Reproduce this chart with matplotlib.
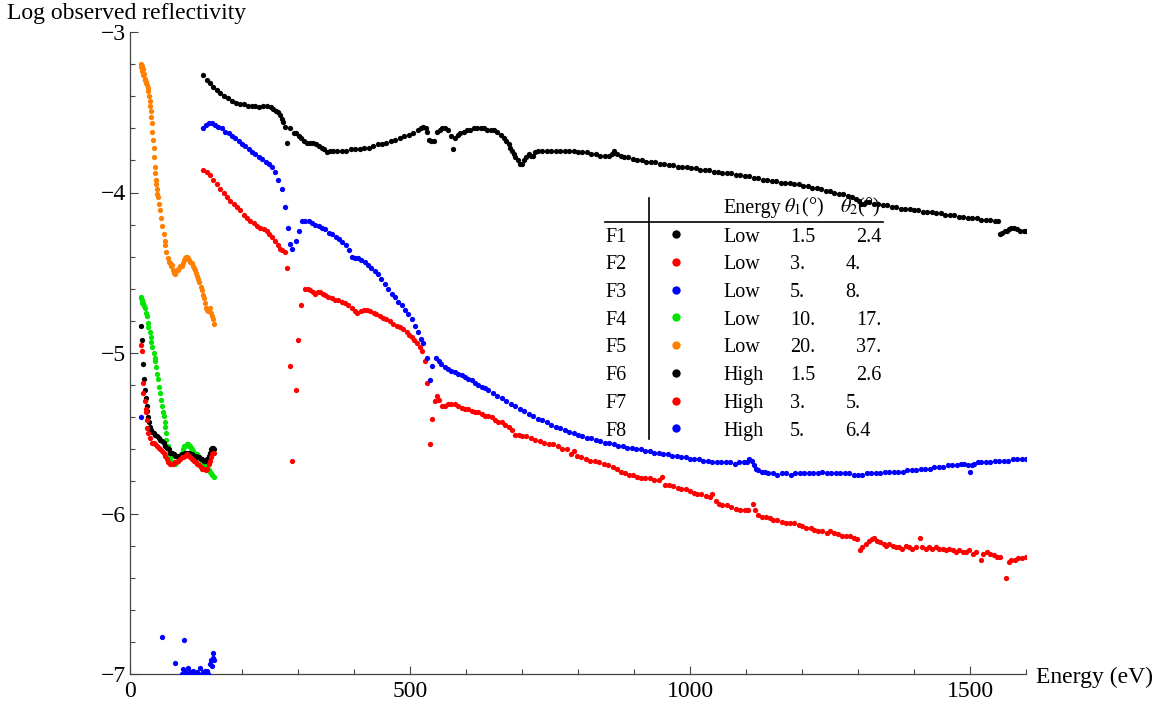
import matplotlib.pyplot as plt
from matplotlib.lines import Line2D
from matplotlib.ticker import MultipleLocator
from matplotlib.transforms import Affine2D

plt.rcParams['font.family'] = ['Liberation Serif', 'DejaVu Serif']
plt.rcParams['mathtext.fontset'] = 'stix'

# --- reflectivity scans: energy (eV) and log10 of observed reflectivity ---
e_f1 = [131, 137, 143, 149, 155, 161, 168, 175, 182, 189, 196, 203, 210, 217, 224, 231, 238, 245, 251, 256,
        261, 265, 268, 271, 274, 277, 281, 286, 292, 296, 301, 306, 310, 316, 322, 327, 333, 338, 342, 346,
        351, 357, 363, 370, 378, 386, 394, 402, 410, 418, 426, 434, 442, 450, 458, 466, 474, 482, 490, 498,
        506, 514, 520, 524, 528, 531, 534, 538, 542, 548, 553, 558, 563, 568, 573, 576, 580, 585, 590, 596,
        602, 608, 614, 620, 626, 632, 638, 644, 650, 656, 662, 667, 672, 676, 679, 682, 685, 688, 692, 696,
        700, 704, 708, 712, 716, 720, 724, 728, 736, 744, 752, 760, 768, 776, 784, 792, 800, 808, 816, 824,
        832, 840, 848, 856, 861, 865, 870, 876, 882, 890, 898, 906, 914, 922, 930, 938, 946, 954, 962, 970,
        978, 986, 994, 1002, 1010, 1018, 1026, 1034, 1042, 1050, 1058, 1066, 1074, 1082, 1090, 1098, 1106,
        1114, 1122, 1130, 1138, 1146, 1154, 1162, 1170, 1178, 1186, 1194, 1202, 1210, 1218, 1226, 1234, 1242,
        1250, 1258, 1266, 1274, 1282, 1290, 1297, 1302, 1306, 1310, 1314, 1320, 1328, 1336, 1344, 1352, 1360,
        1368, 1376, 1384, 1392, 1400, 1408, 1416, 1424, 1432, 1440, 1448, 1456, 1464, 1472, 1480, 1488, 1496,
        1504, 1512, 1520, 1528, 1536, 1544, 1550, 1554, 1558, 1562, 1566, 1570, 1574, 1578, 1584, 1590, 1596,
        1600]
r_f1 = [-3.27, -3.30, -3.32, -3.34, -3.36, -3.38, -3.40, -3.41, -3.43, -3.44, -3.45, -3.45, -3.46, -3.46,
        -3.46, -3.47, -3.46, -3.46, -3.47, -3.48, -3.49, -3.50, -3.52, -3.54, -3.56, -3.59, -3.69, -3.60,
        -3.63, -3.63, -3.65, -3.66, -3.68, -3.69, -3.69, -3.69, -3.70, -3.71, -3.72, -3.73, -3.75, -3.74,
        -3.74, -3.74, -3.74, -3.74, -3.73, -3.73, -3.73, -3.72, -3.72, -3.71, -3.70, -3.70, -3.69, -3.68,
        -3.67, -3.66, -3.65, -3.64, -3.63, -3.61, -3.60, -3.59, -3.60, -3.62, -3.67, -3.68, -3.68, -3.62,
        -3.61, -3.60, -3.60, -3.61, -3.65, -3.73, -3.66, -3.64, -3.63, -3.62, -3.61, -3.61, -3.60, -3.60,
        -3.60, -3.60, -3.61, -3.61, -3.61, -3.62, -3.64, -3.66, -3.68, -3.70, -3.72, -3.74, -3.76, -3.78,
        -3.80, -3.82, -3.82, -3.80, -3.78, -3.76, -3.77, -3.77, -3.75, -3.74, -3.74, -3.74, -3.74, -3.74,
        -3.74, -3.74, -3.74, -3.74, -3.75, -3.75, -3.75, -3.76, -3.76, -3.77, -3.77, -3.77, -3.76, -3.74,
        -3.76, -3.77, -3.78, -3.78, -3.79, -3.80, -3.80, -3.81, -3.81, -3.81, -3.82, -3.82, -3.83, -3.83,
        -3.84, -3.84, -3.84, -3.85, -3.85, -3.86, -3.86, -3.86, -3.87, -3.87, -3.88, -3.88, -3.88, -3.89,
        -3.89, -3.90, -3.90, -3.91, -3.91, -3.92, -3.92, -3.93, -3.93, -3.94, -3.94, -3.94, -3.95, -3.95,
        -3.96, -3.96, -3.97, -3.97, -3.98, -3.99, -3.99, -4.00, -4.01, -4.01, -4.02, -4.03, -4.04, -4.05,
        -4.07, -4.07, -4.06, -4.06, -4.07, -4.07, -4.08, -4.08, -4.09, -4.09, -4.10, -4.10, -4.10, -4.11,
        -4.11, -4.12, -4.12, -4.12, -4.13, -4.13, -4.14, -4.14, -4.14, -4.15, -4.15, -4.16, -4.16, -4.16,
        -4.17, -4.17, -4.17, -4.18, -4.18, -4.26, -4.25, -4.24, -4.24, -4.23, -4.22, -4.22, -4.23, -4.24,
        -4.24, -4.24]

e_f2 = [131, 137, 143, 149, 155, 161, 167, 173, 179, 185, 191, 197, 203, 209, 215, 221, 227, 233, 239, 244,
        249, 254, 259, 264, 268, 272, 276, 281, 285, 290, 296, 300, 306, 312, 317, 321, 326, 330, 335, 339,
        344, 349, 354, 360, 366, 372, 378, 384, 390, 396, 401, 406, 412, 418, 423, 429, 435, 440, 446, 452,
        458, 464, 470, 476, 482, 488, 494, 499, 503, 508, 512, 517, 521, 526, 530, 535, 540, 544, 548, 552,
        557, 562, 568, 574, 580, 586, 592, 598, 604, 610, 616, 622, 628, 634, 640, 646, 652, 658, 664, 670,
        676, 682, 688, 694, 700, 708, 716, 724, 732, 740, 748, 756, 764, 772, 780, 788, 792, 798, 806, 814,
        822, 830, 838, 846, 854, 862, 870, 877, 884, 891, 898, 906, 913, 920, 928, 936, 945, 950, 956, 962,
        970, 978, 984, 992, 1000, 1008, 1013, 1020, 1028, 1035, 1040, 1046, 1052, 1058, 1066, 1074, 1082,
        1090, 1098, 1104, 1112, 1116, 1121, 1128, 1135, 1142, 1149, 1156, 1164, 1172, 1178, 1186, 1194, 1200,
        1208, 1216, 1222, 1228, 1236, 1244, 1250, 1257, 1264, 1272, 1279, 1286, 1292, 1298, 1304, 1308, 1314,
        1320, 1325, 1329, 1334, 1340, 1346, 1350, 1356, 1362, 1368, 1374, 1379, 1385, 1391, 1397, 1403, 1411,
        1415, 1421, 1427, 1433, 1439, 1445, 1451, 1457, 1463, 1469, 1475, 1481, 1487, 1493, 1499, 1505, 1511,
        1519, 1524, 1530, 1536, 1542, 1548, 1554, 1564, 1569, 1574, 1580, 1586, 1592, 1600]
r_f2 = [-3.86, -3.87, -3.89, -3.92, -3.95, -3.98, -4.00, -4.03, -4.05, -4.07, -4.09, -4.11, -4.14, -4.16,
        -4.18, -4.19, -4.21, -4.22, -4.23, -4.24, -4.26, -4.28, -4.30, -4.33, -4.35, -4.36, -4.37, -4.47,
        -5.08, -5.67, -5.23, -4.92, -4.70, -4.60, -4.60, -4.61, -4.62, -4.63, -4.62, -4.62, -4.63, -4.64,
        -4.65, -4.66, -4.67, -4.67, -4.68, -4.69, -4.70, -4.72, -4.74, -4.75, -4.74, -4.73, -4.73, -4.74,
        -4.75, -4.76, -4.77, -4.78, -4.79, -4.80, -4.82, -4.83, -4.84, -4.85, -4.87, -4.89, -4.90, -4.92,
        -4.94, -4.96, -4.99, -5.05, -5.19, -5.57, -5.41, -5.30, -5.27, -5.29, -5.33, -5.33, -5.32, -5.32,
        -5.32, -5.33, -5.34, -5.35, -5.35, -5.36, -5.37, -5.37, -5.38, -5.39, -5.39, -5.40, -5.42, -5.43,
        -5.43, -5.45, -5.46, -5.48, -5.51, -5.51, -5.52, -5.52, -5.53, -5.54, -5.55, -5.56, -5.57, -5.57,
        -5.58, -5.60, -5.60, -5.63, -5.61, -5.64, -5.65, -5.66, -5.67, -5.67, -5.68, -5.69, -5.70, -5.71,
        -5.72, -5.74, -5.75, -5.76, -5.76, -5.77, -5.78, -5.78, -5.78, -5.79, -5.79, -5.77, -5.82, -5.82,
        -5.83, -5.84, -5.85, -5.85, -5.86, -5.87, -5.88, -5.88, -5.89, -5.90, -5.88, -5.92, -5.94, -5.95,
        -5.95, -5.96, -5.97, -5.98, -5.98, -5.98, -5.94, -5.98, -6.01, -6.02, -6.02, -6.03, -6.04, -6.04,
        -6.05, -6.06, -6.06, -6.06, -6.07, -6.08, -6.09, -6.09, -6.10, -6.11, -6.11, -6.12, -6.11, -6.12,
        -6.13, -6.14, -6.14, -6.14, -6.15, -6.16, -6.23, -6.21, -6.19, -6.17, -6.16, -6.15, -6.17, -6.18,
        -6.19, -6.20, -6.19, -6.20, -6.21, -6.21, -6.22, -6.20, -6.21, -6.22, -6.21, -6.15, -6.21, -6.22,
        -6.21, -6.22, -6.21, -6.22, -6.22, -6.23, -6.22, -6.23, -6.24, -6.23, -6.24, -6.24, -6.23, -6.25,
        -6.24, -6.29, -6.25, -6.24, -6.25, -6.26, -6.27, -6.27, -6.40, -6.30, -6.29, -6.29, -6.28, -6.28,
        -6.27]

e_f3 = [131, 136, 141, 146, 152, 158, 164, 170, 176, 182, 188, 194, 200, 206, 212, 218, 224, 230, 236, 242,
        248, 253, 259, 265, 271, 276, 282, 286, 290, 296, 301, 307, 313, 319, 325, 331, 337, 343, 349, 355,
        361, 367, 373, 379, 385, 391, 396, 401, 407, 413, 419, 425, 431, 437, 443, 449, 455, 461, 467, 473,
        479, 485, 491, 497, 503, 509, 515, 520, 524, 530, 535, 540, 546, 551, 556, 562, 568, 574, 580, 586,
        592, 598, 604, 610, 616, 622, 628, 634, 640, 648, 656, 664, 672, 680, 688, 696, 704, 712, 720, 728,
        736, 744, 752, 760, 768, 776, 784, 792, 800, 808, 816, 824, 832, 840, 848, 856, 864, 872, 880, 888,
        896, 904, 912, 920, 928, 936, 944, 952, 960, 968, 976, 984, 992, 1000, 1008, 1016, 1024, 1032, 1040,
        1048, 1056, 1064, 1072, 1080, 1088, 1096, 1102, 1106, 1110, 1114, 1118, 1122, 1128, 1134, 1140, 1148,
        1156, 1164, 1172, 1180, 1188, 1196, 1204, 1212, 1220, 1228, 1236, 1244, 1252, 1260, 1268, 1276, 1284,
        1292, 1300, 1308, 1316, 1324, 1332, 1340, 1348, 1356, 1364, 1372, 1380, 1388, 1396, 1404, 1412, 1420,
        1428, 1436, 1444, 1452, 1460, 1468, 1476, 1484, 1490, 1496, 1500, 1504, 1508, 1514, 1520, 1528, 1536,
        1544, 1552, 1560, 1568, 1576, 1584, 1592, 1600]
r_f3 = [-3.60, -3.58, -3.57, -3.57, -3.58, -3.59, -3.60, -3.62, -3.63, -3.65, -3.66, -3.68, -3.70, -3.71,
        -3.73, -3.75, -3.76, -3.78, -3.79, -3.81, -3.82, -3.84, -3.87, -3.92, -3.98, -4.09, -4.22, -4.32,
        -4.35, -4.30, -4.24, -4.18, -4.18, -4.18, -4.19, -4.20, -4.21, -4.22, -4.23, -4.25, -4.26, -4.28,
        -4.29, -4.31, -4.33, -4.36, -4.40, -4.41, -4.41, -4.42, -4.43, -4.45, -4.47, -4.49, -4.51, -4.54,
        -4.57, -4.60, -4.63, -4.65, -4.68, -4.70, -4.73, -4.76, -4.79, -4.83, -4.87, -4.91, -4.94, -5.03,
        -5.17, -5.08, -5.03, -5.05, -5.07, -5.09, -5.10, -5.11, -5.12, -5.13, -5.14, -5.15, -5.16, -5.17,
        -5.19, -5.20, -5.21, -5.22, -5.23, -5.25, -5.27, -5.28, -5.30, -5.32, -5.33, -5.35, -5.36, -5.38,
        -5.39, -5.41, -5.42, -5.43, -5.45, -5.46, -5.47, -5.48, -5.49, -5.50, -5.51, -5.52, -5.53, -5.53,
        -5.54, -5.55, -5.56, -5.56, -5.57, -5.58, -5.58, -5.59, -5.59, -5.60, -5.60, -5.61, -5.61, -5.62,
        -5.62, -5.63, -5.63, -5.64, -5.64, -5.65, -5.65, -5.66, -5.66, -5.66, -5.67, -5.67, -5.68, -5.68,
        -5.68, -5.68, -5.68, -5.69, -5.68, -5.68, -5.68, -5.66, -5.67, -5.70, -5.72, -5.73, -5.74, -5.74,
        -5.75, -5.75, -5.76, -5.75, -5.75, -5.76, -5.75, -5.75, -5.75, -5.75, -5.75, -5.75, -5.74, -5.75,
        -5.75, -5.75, -5.75, -5.75, -5.75, -5.76, -5.76, -5.76, -5.75, -5.75, -5.75, -5.75, -5.74, -5.74,
        -5.74, -5.74, -5.74, -5.73, -5.73, -5.73, -5.72, -5.72, -5.72, -5.71, -5.71, -5.71, -5.70, -5.70,
        -5.70, -5.69, -5.69, -5.70, -5.74, -5.70, -5.69, -5.68, -5.68, -5.68, -5.68, -5.67, -5.67, -5.67,
        -5.67, -5.66, -5.66, -5.66, -5.66]

e_f4 = [19, 20, 21, 22, 24, 25, 27, 28, 30, 32, 33, 35, 37, 38, 40, 42, 44, 45, 47, 49, 50, 52, 53, 55, 57,
        59, 60, 62, 63, 64, 65, 67, 69, 71, 73, 75, 77, 79, 81, 83, 85, 87, 89, 91, 93, 95, 97, 99, 101, 103,
        105, 107, 109, 111, 113, 115, 117, 119, 121, 123, 125, 127, 129, 131, 133, 135, 137, 139, 141, 143,
        145, 147, 150]
r_f4 = [-4.65, -4.66, -4.67, -4.69, -4.69, -4.71, -4.72, -4.75, -4.77, -4.81, -4.84, -4.87, -4.90, -4.93,
        -4.96, -5.00, -5.03, -5.05, -5.09, -5.13, -5.16, -5.21, -5.25, -5.29, -5.33, -5.37, -5.39, -5.43,
        -5.46, -5.50, -5.54, -5.58, -5.62, -5.65, -5.67, -5.68, -5.69, -5.69, -5.69, -5.68, -5.67, -5.66,
        -5.65, -5.63, -5.62, -5.60, -5.58, -5.58, -5.57, -5.57, -5.58, -5.58, -5.59, -5.60, -5.61, -5.62,
        -5.63, -5.63, -5.64, -5.65, -5.66, -5.66, -5.67, -5.68, -5.69, -5.70, -5.71, -5.72, -5.73, -5.74,
        -5.75, -5.76, -5.77]

e_f5 = [19, 20, 21, 22, 23, 24, 25, 26, 27, 28, 29, 31, 32, 33, 34, 35, 36, 37, 38, 39, 40, 41, 42, 43, 44,
        45, 46, 47, 48, 49, 50, 52, 54, 56, 58, 60, 62, 63, 65, 67, 69, 71, 73, 75, 77, 79, 80, 82, 84, 86,
        88, 90, 92, 94, 96, 98, 100, 102, 104, 106, 108, 110, 112, 114, 116, 118, 120, 122, 124, 126, 128,
        130, 132, 134, 136, 138, 140, 142, 144, 146, 148, 150]
r_f5 = [-3.20, -3.22, -3.21, -3.24, -3.27, -3.23, -3.26, -3.29, -3.30, -3.31, -3.32, -3.33, -3.35, -3.37,
        -3.40, -3.43, -3.46, -3.49, -3.53, -3.57, -3.62, -3.67, -3.72, -3.78, -3.84, -3.88, -3.92, -3.95,
        -3.98, -4.01, -4.03, -4.07, -4.11, -4.16, -4.21, -4.26, -4.30, -4.33, -4.37, -4.41, -4.43, -4.44,
        -4.46, -4.45, -4.48, -4.50, -4.51, -4.49, -4.48, -4.48, -4.47, -4.46, -4.46, -4.44, -4.42, -4.41,
        -4.40, -4.40, -4.41, -4.42, -4.43, -4.44, -4.46, -4.47, -4.48, -4.50, -4.52, -4.54, -4.56, -4.59,
        -4.61, -4.64, -4.66, -4.69, -4.72, -4.73, -4.74, -4.72, -4.75, -4.77, -4.79, -4.82]

e_f6 = [20, 22, 24, 24.5, 26, 28, 30, 31, 33, 34, 36, 38, 40, 42, 45, 48, 51, 54, 57, 60, 63, 66, 69, 72,
        75, 78, 81, 84, 87, 90, 93, 96, 99, 102, 105, 108, 111, 114, 117, 120, 123, 126, 129, 132, 135, 138,
        141, 143, 145, 147, 149, 150]
r_f6 = [-4.83, -4.92, -5.07, -5.16, -5.23, -5.28, -5.33, -5.36, -5.40, -5.43, -5.46, -5.48, -5.49, -5.50,
        -5.51, -5.52, -5.53, -5.54, -5.55, -5.56, -5.58, -5.59, -5.60, -5.62, -5.62, -5.63, -5.64, -5.64,
        -5.64, -5.64, -5.63, -5.63, -5.62, -5.62, -5.62, -5.63, -5.63, -5.64, -5.64, -5.65, -5.65, -5.66,
        -5.66, -5.67, -5.67, -5.66, -5.64, -5.62, -5.60, -5.59, -5.59, -5.60]

e_f7 = [19, 21, 23, 24, 26, 28, 29, 30, 31, 33, 36, 39, 42, 45, 48, 51, 54, 57, 60, 63, 66, 68, 71, 74, 77,
        80, 83, 86, 89, 92, 95, 98, 102, 105, 108, 111, 114, 117, 120, 123, 126, 129, 132, 135, 138, 141,
        143, 145, 147, 149, 150]
r_f7 = [-4.95, -4.99, -5.19, -5.25, -5.30, -5.35, -5.37, -5.42, -5.47, -5.50, -5.53, -5.56, -5.56, -5.57,
        -5.58, -5.59, -5.60, -5.61, -5.62, -5.64, -5.66, -5.68, -5.69, -5.69, -5.69, -5.68, -5.68, -5.67,
        -5.66, -5.65, -5.65, -5.64, -5.63, -5.64, -5.65, -5.66, -5.67, -5.68, -5.69, -5.70, -5.71, -5.72,
        -5.72, -5.73, -5.72, -5.69, -5.67, -5.65, -5.63, -5.62, -5.62]

e_f8 = [20, 57, 80, 92, 95, 96, 99, 102, 104, 107, 110, 113, 116, 119, 122, 125, 128, 131, 134, 137, 140,
        142, 144, 146, 148, 149, 150]
r_f8 = [-5.40, -6.77, -6.93, -7.00, -6.97, -6.79, -6.99, -7.00, -6.96, -6.99, -7.00, -6.98, -7.00, -6.99,
        -7.00, -6.96, -7.00, -6.99, -6.98, -6.98, -7.00, -6.94, -6.91, -6.95, -6.90, -6.87, -6.91]

# --- legend table ---
names = ['F1', 'F2', 'F3', 'F4', 'F5', 'F6', 'F7', 'F8']
energy_mode = ['Low', 'Low', 'Low', 'Low', 'Low', 'High', 'High', 'High']
theta1 = ['1.5', '3.', '5.', '10.', '20.', '1.5', '3.', '5.']
theta2 = ['2.4', '4.', '8.', '17.', '37.', '2.6', '5.', '6.4']
colors = ['black', '#ff0000', '#0000ff', '#00e600', '#ff8000', 'black', '#ff0000', '#0000ff']

series = [(e_f1, r_f1), (e_f2, r_f2), (e_f3, r_f3), (e_f4, r_f4), (e_f5, r_f5),
          (e_f6, r_f6), (e_f7, r_f7), (e_f8, r_f8)]

W, H = 1161, 706
fig = plt.figure(figsize=(W / 100, H / 100), dpi=100)
ax = fig.add_axes([130 / W, 32 / H, 896 / W, 642 / H])

for (e, r), c in zip(series, colors):
    ax.plot(e, r, 'o', color=c, ms=3.8, mew=0, zorder=3)

ax.set_xlim(0, 1600)
ax.set_ylim(-7, -3)
for side in ['top', 'right']:
    ax.spines[side].set_visible(False)
axis_grey = '#444444'
for side in ['left', 'bottom']:
    ax.spines[side].set_color(axis_grey)
    ax.spines[side].set_linewidth(0.9)
ax.xaxis.set_major_locator(MultipleLocator(500))
ax.xaxis.set_minor_locator(MultipleLocator(100))
ax.yaxis.set_major_locator(MultipleLocator(1))
ax.yaxis.set_minor_locator(MultipleLocator(0.2))
ax.tick_params(which='both', direction='in', color=axis_grey, width=0.8, labelsize=17)
ax.tick_params(which='major', length=6)
ax.tick_params(which='minor', length=3.5)
ax.tick_params(axis='x', pad=5)
ax.tick_params(axis='y', pad=3)

fs_axis = 17
fig.text(7 / W, 1 - 18.5 / H, 'Log observed reflectivity', fontsize=fs_axis, va='baseline', ha='left')
fig.text(1036 / W, 1 - 683 / H, 'Energy (eV)', fontsize=fs_axis, va='baseline', ha='left')

# pixel coordinates measured from the top-left corner of the figure
px = Affine2D().scale(1 / W, -1 / H).translate(0, 1) + fig.transFigure

fs = 14.5
row0, step = 241.7, 27.7
fig.text(723, 212.7, 'Energy', transform=px, fontsize=fs, va='baseline')
fig.text(784, 212.7, r'$\theta_1$(°)', transform=px, fontsize=fs, va='baseline')
fig.text(840, 212.7, r'$\theta_2$(°)', transform=px, fontsize=fs, va='baseline')
fig.add_artist(Line2D([605, 883], [222.3, 222.3], transform=px, color='black', lw=1.2))
fig.add_artist(Line2D([649.3, 649.3], [198, 439], transform=px, color='black', lw=1.2))

theta2_right = ['2.4', '17.', '37.', '2.6']
for i, name in enumerate(names):
    yb = row0 + i * step
    fig.text(605, yb, name, transform=px, fontsize=fs, va='baseline')
    fig.add_artist(Line2D([676], [yb - 7.4], transform=px, marker='o', ms=6, mew=0,
                          color=colors[i], linestyle='none'))
    fig.text(723, yb, energy_mode[i], transform=px, fontsize=fs, va='baseline')
    fig.text(790, yb, theta1[i], transform=px, fontsize=fs, va='baseline')
    if theta2[i] in theta2_right:
        fig.text(881.5, yb, theta2[i], transform=px, fontsize=fs, va='baseline', ha='right')
    else:
        fig.text(845.5, yb, theta2[i], transform=px, fontsize=fs, va='baseline')

fig.savefig('out.png', dpi=100)
